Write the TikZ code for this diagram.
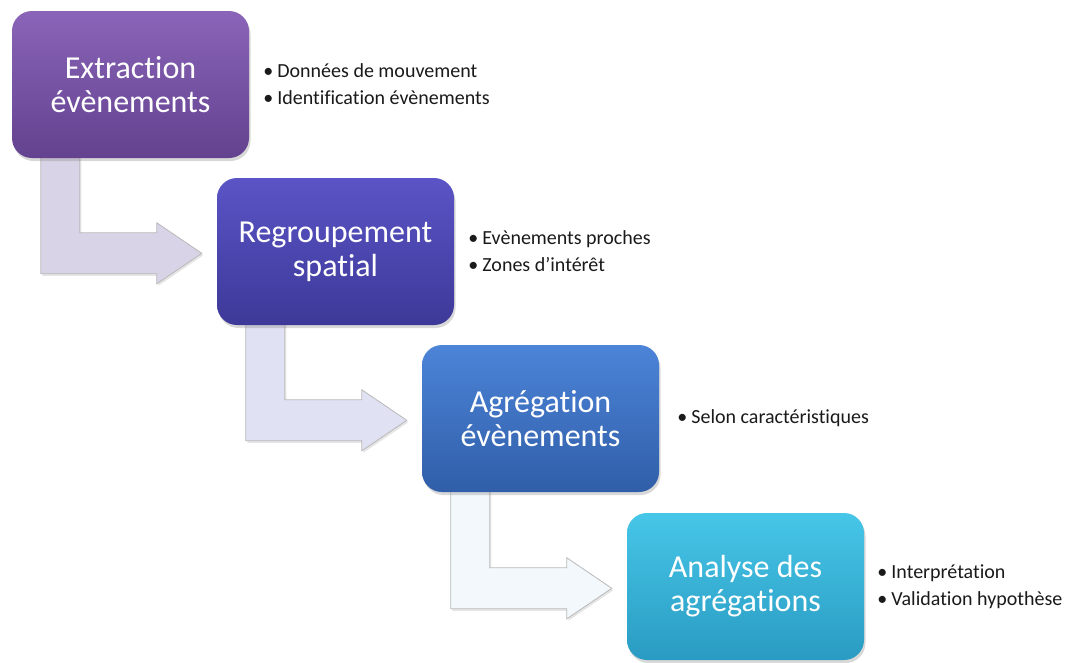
\documentclass[tikz,border=0pt]{standalone}
\usepackage{fontspec}
\setmainfont{Carlito}[Ligatures=NoCommon]
\usetikzlibrary{calc,shadows,backgrounds}
\definecolor{pA}{HTML}{8A64B8}\definecolor{pB}{HTML}{63428F}
\definecolor{iA}{HTML}{5A54C6}\definecolor{iB}{HTML}{3D3998}
\definecolor{bA}{HTML}{4C84D8}\definecolor{bB}{HTML}{305EA8}
\definecolor{cA}{HTML}{46C6E8}\definecolor{cB}{HTML}{2A9BC2}
\definecolor{arA}{HTML}{D9D3E7}
\definecolor{arB}{HTML}{E0E1F3}
\definecolor{arC}{HTML}{F3F8FC}
\definecolor{txt}{HTML}{1A1A1A}
\tikzset{
  stagebox/.style={rounded corners=20pt, minimum width=237pt, minimum height=147pt,
    align=center, text=white, font=\fontsize{32}{34}\selectfont, inner sep=0pt,
    drop shadow={shadow xshift=1.5pt, shadow yshift=-3pt, opacity=0.3}},
  bullets/.style={anchor=west, align=left, text=txt, font=\fontsize{20}{27}\selectfont, inner sep=0pt},
  benta/.style={draw=gray!55, line width=0.8pt, line join=miter,
    drop shadow={shadow xshift=1.5pt, shadow yshift=-2pt, opacity=0.2}}
}
\newcommand\bentarrow[3]{%
  \path[benta, fill=#3] let \p1=(#1.south west), \p2=(#2.north west) in
   (\x1+29pt,\y1+4pt) -- (\x1+29pt,\y2-96pt) -- (\x2-60pt,\y2-96pt) -- (\x2-60pt,\y2-106pt)
   -- (\x2-15pt,\y2-75.5pt) -- (\x2-60pt,\y2-45pt) -- (\x2-60pt,\y2-55pt)
   -- (\x1+68pt,\y2-55pt) -- (\x1+68pt,\y1+4pt) -- cycle;}
\newcommand\bl[1]{\makebox[14pt][l]{•}#1}
\begin{document}
\begin{tikzpicture}[x=1pt,y=-1pt]
\useasboundingbox (0,0) rectangle (1070,662);
\path
 (130.5,84.5) node[stagebox, top color=pA, bottom color=pB] (b1) {Extraction\\évènements}
 (335.5,251.5) node[stagebox, top color=iA, bottom color=iB] (b2) {Regroupement\\spatial}
 (540.5,418.5) node[stagebox, top color=bA, bottom color=bB] (b3) {Agrégation\\évènements}
 (745.5,586.5) node[stagebox, top color=cA, bottom color=cB] (b4) {Analyse des\\agrégations};
\begin{scope}[on background layer]
\fill[white] (0,0) rectangle (1070,662);
\bentarrow{b1}{b2}{arA}
\bentarrow{b2}{b3}{arB}
\bentarrow{b3}{b4}{arC}
\end{scope}
\node[bullets] (l1) at ($(b1.east)+(14,0)$) {\bl{Données de mouvement}\\\bl{Identification évènements}};
\node[bullets] (l2) at ($(b2.east)+(14,0)$) {\bl{Evènements proches}\\\bl{Zones d’intérêt}};
\node[bullets] (l3) at ($(b3.east)+(18,0)$) {\bl{Selon caractéristiques}};
\node[bullets] (l4) at ($(b4.east)+(13,0)$) {\bl{Interprétation}\\\bl{Validation hypothèse}};
\end{tikzpicture}
\end{document}
